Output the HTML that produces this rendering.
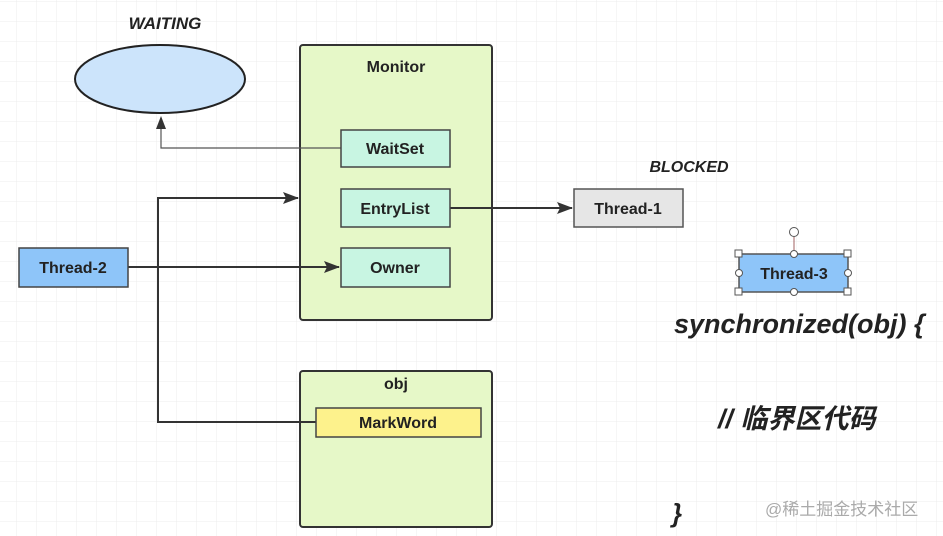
<!DOCTYPE html>
<html><head><meta charset="utf-8"><style>
html,body{margin:0;padding:0;background:#fff;}
svg{display:block;}
text{font-family:"Liberation Sans","Noto Sans CJK SC",sans-serif;}
</style></head><body>
<svg width="943" height="536" viewBox="0 0 943 536" xmlns="http://www.w3.org/2000/svg">
<defs>
<pattern id="g" width="20" height="20" patternUnits="userSpaceOnUse" x="-3" y="2">
<path d="M20 0V20M0 20H20" stroke="#ececec" stroke-width="1" fill="none"/>
</pattern>
<marker id="a" markerWidth="16" markerHeight="12" refX="15" refY="6" orient="auto" markerUnits="userSpaceOnUse"><path d="M0 0L16 6L0 12L3 6Z" fill="#333"/></marker>
</defs>
<rect width="943" height="536" fill="url(#g)"/>
<text x="165" y="29" font-size="17" font-weight="bold" font-style="italic" text-anchor="middle" fill="#222">WAITING</text>
<ellipse cx="160" cy="79" rx="85" ry="34" fill="#cce4fb" stroke="#222" stroke-width="2"/>
<rect x="300" y="45" width="192" height="275" rx="3" fill="#e6f8c8" stroke="#333" stroke-width="2"/>
<text x="396" y="72" font-size="16" font-weight="bold" text-anchor="middle" fill="#222">Monitor</text>
<rect x="300" y="371" width="192" height="156" rx="3" fill="#e6f8c8" stroke="#333" stroke-width="2"/>
<text x="396" y="389" font-size="16" font-weight="bold" text-anchor="middle" fill="#222">obj</text>
<polyline points="341,148 161,148 161,125" fill="none" stroke="#555" stroke-width="1.2"/>
<path d="M156 129L161 116L166 129Z" fill="#333"/>
<polyline points="316,422 158,422 158,198 298,198" fill="none" stroke="#333" stroke-width="2" marker-end="url(#a)"/>
<line x1="128" y1="267" x2="339" y2="267" stroke="#333" stroke-width="2" marker-end="url(#a)"/>
<line x1="450" y1="208" x2="572" y2="208" stroke="#333" stroke-width="2" marker-end="url(#a)"/>
<g font-size="16" font-weight="bold" text-anchor="middle" fill="#222">
<rect x="341" y="130" width="109" height="37" fill="#c8f5e2" stroke="#444" stroke-width="1.5"/>
<text x="395" y="154">WaitSet</text>
<rect x="341" y="189" width="109" height="38" fill="#c8f5e2" stroke="#444" stroke-width="1.5"/>
<text x="395" y="214">EntryList</text>
<rect x="341" y="248" width="109" height="39" fill="#c8f5e2" stroke="#444" stroke-width="1.5"/>
<text x="395" y="273">Owner</text>
<rect x="19" y="248" width="109" height="39" fill="#8ec5f9" stroke="#444" stroke-width="1.5"/>
<text x="73" y="273">Thread-2</text>
<rect x="574" y="189" width="109" height="38" fill="#e6e6e6" stroke="#555" stroke-width="1.5"/>
<text x="628" y="214">Thread-1</text>
<rect x="316" y="408" width="165" height="29" fill="#fdf28c" stroke="#444" stroke-width="1.5"/>
<text x="398" y="428">MarkWord</text>
<rect x="739" y="254" width="109" height="38" fill="#8ec5f9" stroke="#555" stroke-width="1.5"/>
<text x="794" y="279">Thread-3</text>
</g>
<line x1="794" y1="237" x2="794" y2="254" stroke="#a06060" stroke-width="1"/>
<g fill="#fff" stroke="#555" stroke-width="1">
<circle cx="794" cy="232" r="4.5"/>
<circle cx="794" cy="254" r="3.5"/><circle cx="794" cy="292" r="3.5"/>
<circle cx="739" cy="273" r="3.5"/><circle cx="848" cy="273" r="3.5"/>
<rect x="735" y="250" width="7" height="7"/><rect x="844" y="250" width="7" height="7"/>
<rect x="735" y="288" width="7" height="7"/><rect x="844" y="288" width="7" height="7"/>
</g>
<text x="689" y="172" font-size="16" font-weight="bold" font-style="italic" text-anchor="middle" fill="#222">BLOCKED</text>
<text x="674" y="333" font-size="27" font-weight="bold" font-style="italic" fill="#222">synchronized(obj) {</text>
<text x="718" y="428" font-size="27" font-weight="bold" font-style="italic" fill="#222">// 临界区代码</text>
<text x="672" y="522" font-size="26" font-weight="bold" font-style="italic" fill="#222">}</text>
<text x="765" y="515" font-size="17" fill="#aaa">@稀土掘金技术社区</text>
</svg>
</body></html>
